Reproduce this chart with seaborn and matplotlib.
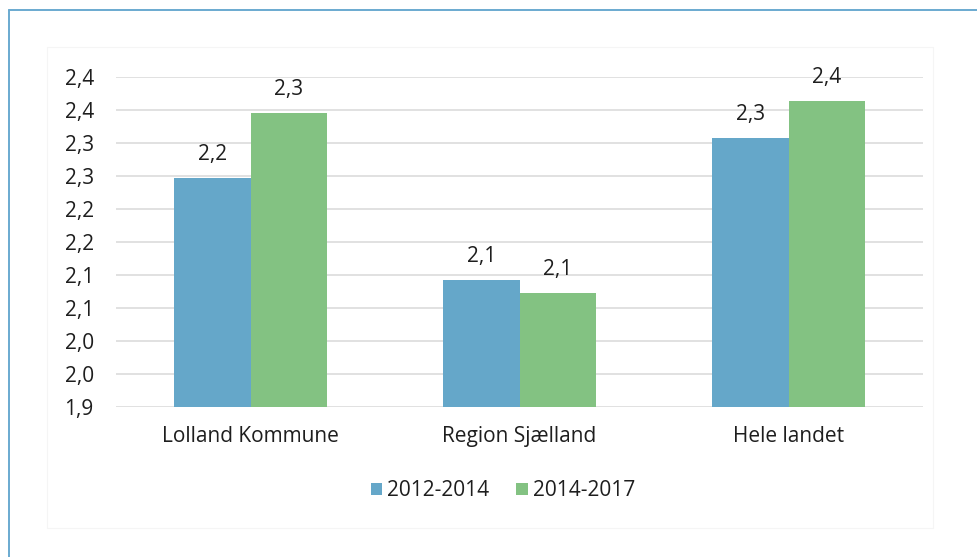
import matplotlib
matplotlib.use("Agg")
import matplotlib.pyplot as plt
from matplotlib.lines import Line2D
from matplotlib.patches import Patch, Rectangle
import seaborn as sns
import pandas as pd

categories = ["Lolland Kommune", "Region Sjælland", "Hele landet"]
series_names = ["2012-2014", "2014-2017"]
values_2012_2014 = [2.247, 2.092, 2.308]
values_2014_2017 = [2.345, 2.073, 2.364]
y_ticks = [1.90, 1.95, 2.00, 2.05, 2.10, 2.15, 2.20, 2.25, 2.30, 2.35, 2.40]
y_tick_labels = ["1,9", "2,0", "2,0", "2,1", "2,1", "2,2", "2,2", "2,3", "2,3", "2,4", "2,4"]
colors = ["#65A7C9", "#83C282"]

df = pd.DataFrame({
    "region": categories * 2,
    "period": [series_names[0]] * 3 + [series_names[1]] * 3,
    "value": values_2012_2014 + values_2014_2017,
})

sns.set_theme(style="white")
plt.rcParams["font.family"] = ["Open Sans", "DejaVu Sans"]
FS = 15
TC = "#1E1E1E"

fig = plt.figure(figsize=(9.77, 5.57), dpi=100)
ax = fig.add_axes([116 / 977, 1 - 407 / 557, (923 - 116) / 977, (407 - 77) / 557])

sns.barplot(data=df, x="region", y="value", hue="period", order=categories,
            hue_order=series_names, palette=colors, width=0.567, gap=0,
            saturation=1, linewidth=0, ax=ax, legend=False, zorder=3)

ax.set_ylim(1.90, 2.40)
ax.set_xlim(-0.5, 2.5)
ax.set_yticks(y_ticks)
ax.set_yticklabels(y_tick_labels)
ax.set_xlabel("")
ax.set_ylabel("")
for s in ax.spines.values():
    s.set_visible(False)
ax.yaxis.grid(True, color="#D9D9D9", linewidth=1.1, zorder=0)
ax.set_axisbelow(True)
ax.tick_params(axis="y", length=0, pad=16, labelsize=FS, labelcolor=TC)
ax.tick_params(axis="x", length=0, pad=14, labelsize=FS, labelcolor=TC)

for container in ax.containers:
    for bar in container:
        h = bar.get_height()
        ax.annotate(f"{h:.1f}".replace(".", ","),
                    (bar.get_x() + bar.get_width() / 2, h),
                    xytext=(0, 17), textcoords="offset points",
                    ha="center", va="center", fontsize=FS, color=TC,
                    annotation_clip=False)

handles = [Patch(facecolor=c, edgecolor="none") for c in colors]
fig.legend(handles, series_names, loc="center", bbox_to_anchor=(503 / 977, 1 - 491 / 557),
           ncol=2, frameon=False, fontsize=FS, handlelength=0.55, handleheight=0.55,
           handletextpad=0.25, columnspacing=1.3, labelcolor=TC)

# faint chart-area border
fig.add_artist(Rectangle((47 / 977, 1 - 528 / 557), (933 - 47) / 977, (528 - 47) / 557,
                         transform=fig.transFigure, fill=False, edgecolor="#F5F5F5",
                         linewidth=0.8))
# blue outer frame
fig.add_artist(Line2D([9 / 977, 9 / 977], [0, 1 - 10 / 557], transform=fig.transFigure,
                      color="#6AAAD0", linewidth=1.4))
fig.add_artist(Line2D([9 / 977, 1], [1 - 10 / 557, 1 - 10 / 557], transform=fig.transFigure,
                      color="#6AAAD0", linewidth=1.4))

fig.savefig("out.png", dpi=100)
